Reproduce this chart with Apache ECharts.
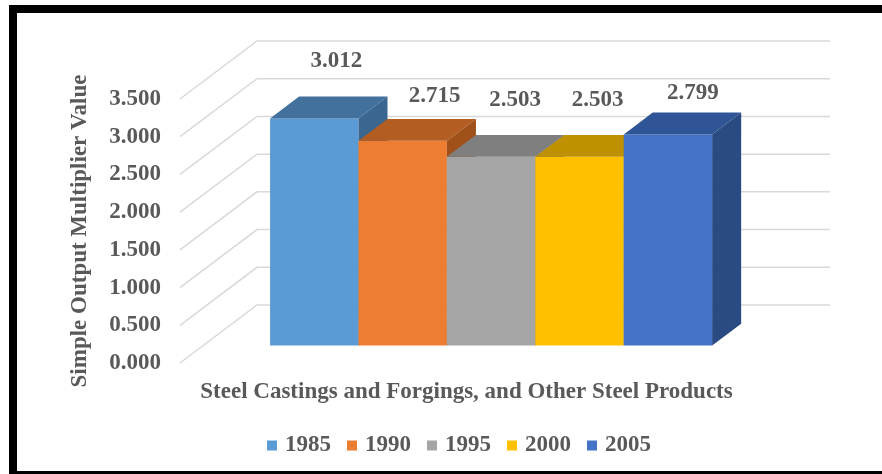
<!DOCTYPE html>
<html>
<head>
<meta charset="utf-8">
<script src="https://cdn.jsdelivr.net/npm/echarts@6/dist/echarts.min.js"></script>
<style>
  html, body { margin: 0; padding: 0; background: #fff; }
  #chart { width: 882px; height: 474px; }
</style>
</head>
<body>
<div id="chart"></div>
<script>
  // data
  const years = ["1985", "1990", "1995", "2000", "2005"];
  const multipliers = [3.012, 2.715, 2.503, 2.503, 2.799];
  const categories = ["Steel Castings and Forgings, and Other Steel Products"];
  const yTicks = [0, 0.5, 1, 1.5, 2, 2.5, 3, 3.5];

  // look of the fake 3d bars
  const faceColors = ["#5B9BD5", "#ED7D31", "#A5A5A5", "#FFC000", "#4472C4"];
  const topColors = ["#41719C", "#B45D22", "#7F7F7F", "#BF9000", "#2F5597"];
  const sideColors = ["#3A6690", "#9F5119", "#6F6F6F", "#A67C00", "#2A4A82"];
  const labelNudge = [[22, 35], [32, 23], [24, 35], [18, 35], [25, 20]];

  const depthVec = [77, -58];
  const barDepth = [0.3, 0.677];
  const barShare = 0.1543;
  const font = "'Times New Roman', 'Liberation Serif', serif";
  const textGray = "#595959";

  const gridSeries = {
    type: "custom",
    silent: true,
    z: 1,
    data: yTicks.map(v => [0, v]),
    renderItem: (params, api) => {
      const cs = params.coordSys;
      const p = api.coord([0, api.value(1)]);
      return {
        type: "polyline",
        shape: {
          points: [
            [cs.x, p[1]],
            [cs.x + depthVec[0], p[1] + depthVec[1]],
            [cs.x + cs.width + depthVec[0], p[1] + depthVec[1]]
          ]
        },
        style: { stroke: "#D9D9D9", lineWidth: 1.5, fill: null }
      };
    }
  };

  const barSeries = years.map((year, i) => ({
    name: year,
    type: "custom",
    z: 2,
    itemStyle: { color: faceColors[i] },
    data: [[0, multipliers[i]]],
    renderItem: (params, api) => {
      const base = api.coord([0, 0]);
      const top = api.coord([0, api.value(1)]);
      const w = api.size([1, 0])[0] * barShare;
      const x0 = base[0] - 2.5 * w + i * w + 1.5;
      const fx = depthVec[0] * barDepth[0], fy = depthVec[1] * barDepth[0];
      const bx = depthVec[0] * barDepth[1], by = depthVec[1] * barDepth[1];
      return {
        type: "group",
        children: [
          {
            type: "rect",
            shape: { x: x0 + fx, y: top[1] + fy, width: w, height: base[1] - top[1] },
            style: { fill: faceColors[i] }
          },
          {
            type: "polygon",
            shape: { points: [
              [x0 + fx, top[1] + fy], [x0 + w + fx, top[1] + fy],
              [x0 + w + bx, top[1] + by], [x0 + bx, top[1] + by]
            ] },
            style: { fill: topColors[i] }
          },
          {
            type: "polygon",
            shape: { points: [
              [x0 + w + fx, top[1] + fy], [x0 + w + bx, top[1] + by],
              [x0 + w + bx, base[1] + by], [x0 + w + fx, base[1] + fy]
            ] },
            style: { fill: sideColors[i] }
          },
          {
            type: "text",
            x: x0 + fx + w / 2 + labelNudge[i][0],
            y: top[1] + by - labelNudge[i][1],
            style: {
              text: multipliers[i].toFixed(3),
              font: "bold 23px " + font,
              fill: textGray,
              textAlign: "center", align: "center",
              textVerticalAlign: "middle", verticalAlign: "middle"
            }
          }
        ]
      };
    }
  }));

  const option = {
    animation: false,
    backgroundColor: "#fff",
    grid: { left: 180, right: 129, top: 99, bottom: 111 },
    xAxis: {
      type: "category",
      data: categories,
      axisLine: { show: false },
      axisTick: { show: false },
      axisLabel: {
        margin: 18,
        fontFamily: font,
        fontWeight: "bold",
        fontSize: 23,
        color: textGray
      }
    },
    yAxis: {
      type: "value",
      min: 0,
      max: 3.5,
      interval: 0.5,
      name: "Simple Output Multiplier Value",
      nameLocation: "middle",
      nameGap: 88,
      nameTextStyle: { fontFamily: font, fontWeight: "bold", fontSize: 23, color: textGray },
      axisLine: { show: false },
      axisTick: { show: false },
      splitLine: { show: false },
      axisLabel: {
        margin: 19,
        formatter: v => v.toFixed(3),
        fontFamily: font,
        fontWeight: "bold",
        fontSize: 23,
        color: textGray
      }
    },
    legend: {
      data: years,
      top: 429,
      left: 262,
      icon: "rect",
      itemWidth: 10,
      itemHeight: 10,
      itemGap: 16,
      textStyle: {
        fontFamily: font, fontWeight: "bold", fontSize: 23, color: textGray,
        padding: [0, 0, 0, 3]
      }
    },
    graphic: [
      {
        type: "rect",
        shape: { x: 13, y: 9, width: 920, height: 466 },
        style: { fill: null, stroke: "#000", lineWidth: 8 },
        silent: true
      }
    ],
    series: [gridSeries, ...barSeries]
  };

  const chart = echarts.init(document.getElementById("chart"));
  chart.setOption(option);
</script>
</body>
</html>
